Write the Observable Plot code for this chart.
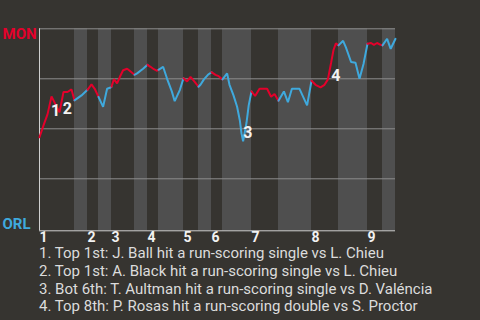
<!DOCTYPE html>
<html><head><meta charset="utf-8">
<script src="https://cdn.jsdelivr.net/npm/d3@7"></script>
<script src="https://cdn.jsdelivr.net/npm/@observablehq/plot@0.6"></script>
<style>
html,body{margin:0;padding:0;background:#363430;width:480px;height:320px;overflow:hidden;font-family:Roboto,sans-serif;}
#chart svg{display:block;}
#caption{margin:0;padding-left:39px;color:#dcdcdc;font-size:15px;line-height:17.8px;white-space:nowrap;}
</style></head><body>
<div id="chart"></div>
<div id="caption"></div>
<script>
// Teams
const awayTeam = "MON";
const homeTeam = "ORL";
// Win probability for MON, by game progress (play sequence units)
const progress = [0,1,2,3,4,5,6,7,8,8.75,10.5,12,13,13.8,14.75,15.9,16.9,17.6,18,18.6,19.4,20.1,20.9,21.9,22.4,23.75,24.4,25.9,27,27.75,28.6,29.4,29.75,30.9,31.9,33.1,33.8,35.1,36,36.9,37.75,38.6,39.4,39.75,40.25,41.1,42.1,43,44,44.8,45.75,46.9,47.5,48.5,49.4,50.1,50.5,50.9,51.75,52.3,53,53.9,55,56.9,57.9,58.75,59.75,61.1,62.1,63.1,65,66.9,68,69,70.25,71.25,72.1,72.9,73.5,74.1,74.75,75.9,76.6,77.9,79,80,81,82,82.9,83.6,84.4,85.25,85.75,86.9,87.8,89];
const winProb = [0.458,0.517,0.572,0.662,0.622,0.583,0.684,0.684,0.697,0.642,0.667,0.695,0.722,0.70,0.66,0.61,0.70,0.705,0.71,0.748,0.727,0.76,0.793,0.80,0.793,0.77,0.777,0.80,0.82,0.81,0.798,0.79,0.795,0.81,0.75,0.686,0.638,0.695,0.753,0.737,0.76,0.74,0.72,0.71,0.72,0.747,0.77,0.783,0.77,0.763,0.747,0.777,0.72,0.667,0.61,0.54,0.477,0.437,0.53,0.617,0.687,0.664,0.70,0.70,0.66,0.674,0.64,0.687,0.633,0.70,0.70,0.617,0.74,0.72,0.707,0.72,0.747,0.83,0.894,0.927,0.917,0.94,0.907,0.834,0.83,0.75,0.824,0.925,0.929,0.92,0.929,0.92,0.917,0.95,0.90,0.95];
// Half-inning boundaries (top 1st, bottom 1st, top 2nd, ...)
const halfBounds = [0,8.75,12,14.75,18,23.75,27,29.75,36,39.75,43,45.75,53,59.75,68,74.75,82,85.75,89];
const innings = [1,2,3,4,5,6,7,8,9];
// Key events
const eventNum = [1,2,3,4];
const eventX = [4.05,6.95,52.1,74.1];
const eventY = [0.5875,0.60,0.4775,0.763];
const eventText = [
  "Top 1st: J. Ball hit a run-scoring single vs L. Chieu",
  "Top 1st: A. Black hit a run-scoring single vs L. Chieu",
  "Bot 6th: T. Aultman hit a run-scoring single vs D. Valéncia",
  "Top 8th: P. Rosas hit a run-scoring double vs S. Proctor"
];

const RED = "#e4002b", BLUE = "#3fa9dd";

const halves = d3.range(halfBounds.length - 1).map(h => ({
  h, x1: halfBounds[h], x2: halfBounds[h + 1], top: h % 2 === 0
}));
const bands = halves.filter(d => !d.top);
const pts = progress.map((t, i) => ({t, p: winProb[i]}));
const segs = [];
for (const hv of halves) {
  for (const d of pts) {
    if (d.t >= hv.x1 - 1e-9 && d.t <= hv.x2 + 1e-9) segs.push({t: d.t, p: d.p, h: hv.h, c: hv.top ? RED : BLUE});
  }
}
const inningData = innings.map((n, i) => ({n, x: halfBounds[2 * i]}));
const events = eventNum.map((n, i) => ({n, x: eventX[i], y: eventY[i]}));

const chart = Plot.plot({
  width: 480,
  height: 245,
  marginLeft: 39, marginRight: 85, marginTop: 28, marginBottom: 17,
  style: {background: "transparent", fontFamily: "Roboto, sans-serif"},
  x: {domain: [0, 89], range: [39, 395], axis: null},
  y: {domain: [0, 1], range: [228.3, 28.3], axis: null},
  color: {type: "identity"},
  marks: [
    Plot.rect(bands, {x1: "x1", x2: "x2", y1: -0.01, y2: 1, fill: "#4f4f4f"}),
    Plot.ruleY([0.25, 0.5, 0.75, 1], {stroke: "#8e8e8e", strokeWidth: 1}),
    Plot.ruleX([0], {y1: -0.01, y2: 1, stroke: "#cfcfcf"}),
    Plot.ruleY([-0.01], {x1: 0, x2: 89, stroke: "#cfcfcf"}),
    Plot.line(segs, {x: "t", y: "p", z: "h", stroke: "c", strokeWidth: 2, strokeLinejoin: "miter", curve: "linear"}),
    Plot.text(events, {x: "x", y: "y", text: d => String(d.n), fill: "#f2f2f2", fontWeight: "bold", fontSize: 16}),
    Plot.text(inningData, {x: "x", y: -0.01, text: d => String(d.n), textAnchor: "start", lineAnchor: "top", dy: 1.5, fill: "#f2f2f2", fontWeight: "bold", fontSize: 14}),
    Plot.text([awayTeam], {frameAnchor: "left", y: 1, text: d => d, textAnchor: "start", lineAnchor: "top", dx: -37, fill: RED, fontWeight: "bold", fontSize: 15}),
    Plot.text([homeTeam], {frameAnchor: "left", y: 0, text: d => d, textAnchor: "start", lineAnchor: "bottom", dx: -37, fill: BLUE, fontWeight: "bold", fontSize: 15})
  ]
});
document.getElementById("chart").appendChild(chart);
const cap = document.getElementById("caption");
eventText.forEach((s, i) => {
  const div = document.createElement("div");
  div.textContent = `${eventNum[i]}. ${s}`;
  cap.appendChild(div);
});
</script>
</body></html>
